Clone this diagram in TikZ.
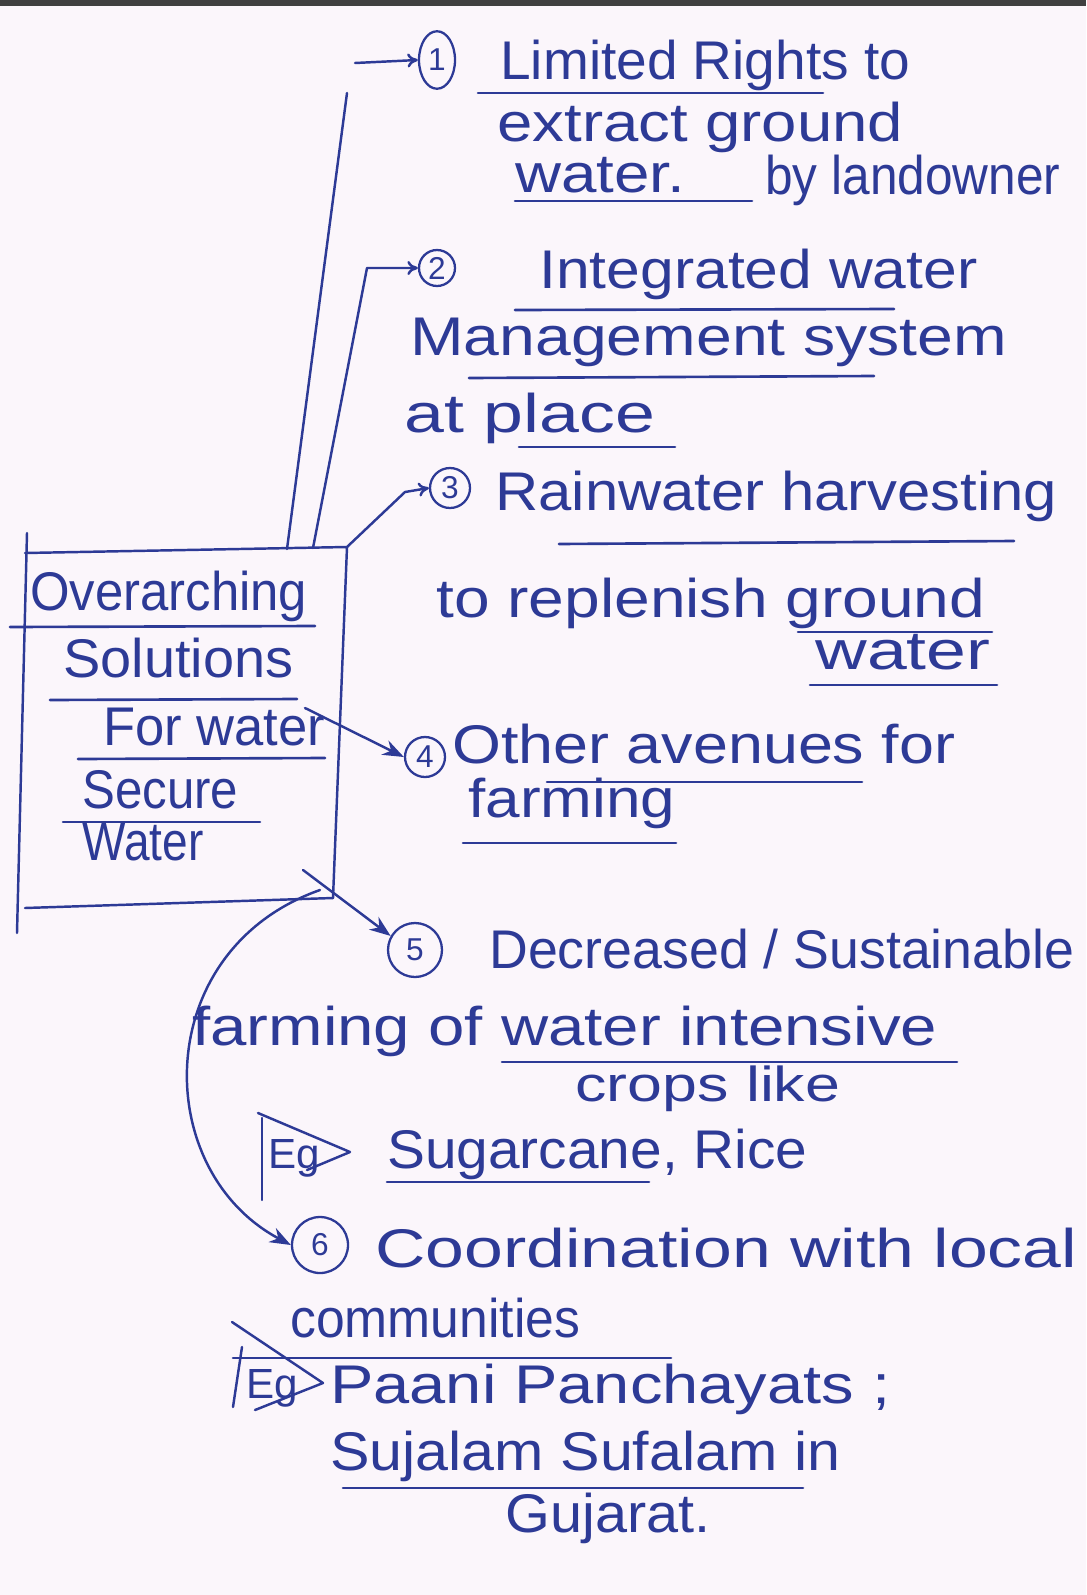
\documentclass[tikz,border=0pt]{standalone}
\usepackage{fontspec}
\usepackage{graphicx}
\setmainfont{Liberation Sans}
\usetikzlibrary{arrows.meta,shapes.geometric}
\definecolor{ink}{RGB}{45,58,150}
\definecolor{paper}{RGB}{251,246,251}
\newcommand\hw[2]{\resizebox{#1}{\height}{#2}}
\begin{document}
\begin{tikzpicture}[x=0.02cm,y=-0.02cm,
  txt/.style={anchor=base west,inner sep=0pt,text=ink,font=\fontsize{31}{31}\selectfont},
  small/.style={font=\fontsize{24}{24}\selectfont},
  mid/.style={font=\fontsize{28}{28}\selectfont},
  num/.style={draw=ink,circle,line width=1.3pt,inner sep=0pt,text=ink,font=\fontsize{18}{18}\selectfont},
  ul/.style={draw=ink,line width=1.5pt,line cap=round},
  pen/.style={draw=ink,line width=1.4pt,line cap=round,line join=round},
  openarr/.style={pen,-{To[length=6pt,width=8pt]}},
  fillarr/.style={pen,-{Stealth[length=12pt,width=9pt]}}]
\useasboundingbox (0,0) rectangle (1086,1595);
\fill[paper] (0,0) rectangle (1086,1595);
\fill[black!75] (0,0) rectangle (1086,6);

% ---------- box ----------
\coordinate (bTL) at (25,553);
\coordinate (bTR) at (347,547);
\coordinate (bBR) at (333,898);
\coordinate (bBL) at (25,908);
\draw[pen] (bTL) -- (bTR) -- (bBR);
\draw[pen] (bBL) -- (bBR);
\draw[pen] (27,533) -- (17,933);

\node[txt] (o1) at (30,610) {\hw{5.54cm}{Overarching}};
\node[txt] (o2) at (63,677) {\hw{4.6cm}{Solutions}};
\node[txt] (o3) at (103,745) {\hw{4.44cm}{For water}};
\node[txt] (o4) at (82,808) {\hw{3.12cm}{Secure}};
\node[txt] (o5) at (82,860) {\hw{2.42cm}{Water}};
\draw[ul] (10,627) -- (315,626);
\draw[ul] (50,700) -- (297,699);
\draw[ul] (78,759) -- (325,758);
\draw[ul] (63,822) -- (260,822);

% ---------- item 1 ----------
\node[num,ellipse,minimum width=0.72cm,minimum height=1.15cm] (n1) at (437,60) {1};
\node[txt] (t1) at (500,80) {\hw{8.2cm}{Limited Rights to}};
\node[txt] (t2) at (497,141) {\hw{8.12cm}{extract ground}};
\node[txt] (t3) at (515,192) {\hw{3.4cm}{water.}};
\node[txt] (t3b) at (765,194) {\hw{5.9cm}{by landowner}};
\draw[ul] (478,93) -- (823,93);
\draw[ul] (515,201) -- (752,201);
\coordinate (a1s) at (287,549);
\coordinate (a1t) at (347,93);
\coordinate (a1a) at (355,63);
\draw[pen] (a1s) -- (a1t);
\draw[openarr] (a1a) -- (n1.west);

% ---------- item 2 ----------
\node[num,minimum size=0.72cm] (n2) at (437,268) {2};
\node[txt] (t4) at (539,288) {\hw{8.76cm}{Integrated water}};
\node[txt] (t5) at (410,355) {\hw{11.94cm}{Management system}};
\node[txt] (t6) at (404,432) {\hw{5.02cm}{at place}};
\draw[ul] (515,310) -- (894,309);
\draw[ul] (469,378) -- (874,376);
\draw[ul] (519,447) -- (675,447);
\coordinate (a2s) at (313,548);
\coordinate (a2c) at (367,268);
\draw[openarr] (a2s) -- (a2c) -- (n2.west);

% ---------- item 3 ----------
\node[num,minimum size=0.8cm] (n3) at (450,488) {3};
\node[txt] (t7) at (495,510) {\hw{11.24cm}{Rainwater harvesting}};
\node[txt] (t8) at (436,617) {\hw{10.98cm}{to replenish ground}};
\node[txt] (t9) at (815,669) {\hw{3.5cm}{water}};
\draw[ul] (559,544) -- (1014,541);
\draw[ul] (798,632) -- (992,632);
\draw[ul] (810,685) -- (997,685);
\coordinate (a3c) at (405,492);
\draw[openarr] (bTR) -- (a3c) -- (n3.west);

% ---------- item 4 ----------
\node[num,minimum size=0.8cm] (n4) at (425,757) {4};
\node[txt] (t10) at (452,763) {\hw{10.06cm}{Other avenues for}};
\node[txt] (t11) at (468,817) {\hw{4.14cm}{farming}};
\draw[ul] (547,782) -- (862,782);
\draw[ul] (463,843) -- (676,843);
\coordinate (a4s) at (305,708);
\draw[fillarr] (a4s) -- (n4.west);

% ---------- item 5 ----------
\node[num,minimum size=1.08cm] (n5) at (415,950) {5};
\node[txt] (t12) at (489,968) {\hw{11.7cm}{Decreased / Sustainable}};
\node[txt] (t13) at (192,1045) {\hw{14.9cm}{farming of water intensive}};
\node[txt,mid] (t14) at (575,1101) {\hw{5.3cm}{crops like}};
\draw[ul] (502,1062) -- (957,1062);
\coordinate (a5s) at (303,870);
\draw[fillarr] (a5s) -- (n5.150);

% Eg flag 1
\coordinate (f1t) at (258,1113);
\coordinate (f1p) at (350,1152);
\coordinate (f1b) at (307,1170);
\draw[pen] (262,1118) -- (262,1200);
\draw[pen] (f1t) -- (f1p) -- (f1b);
\node[txt,small] (eg1) at (268,1168) {Eg};
\node[txt] (t15) at (387,1168) {\hw{8.4cm}{Sugarcane, Rice}};
\draw[ul] (387,1182) -- (649,1182);

% ---------- item 6 ----------
\node[num,minimum size=1.12cm] (n6) at (320,1245) {6};
\node[txt] (t16) at (375,1267) {\hw{14.04cm}{Coordination with local}};
\node[txt] (t17) at (290,1337) {\hw{5.8cm}{communities}};
\draw[ul] (233,1358) -- (671,1358);
\coordinate (a6s) at (320,890);
\draw[fillarr] (a6s) .. controls (150,950) and (150,1170) .. (n6.west);

% Eg flag 2
\coordinate (f2t) at (232,1322);
\coordinate (f2p) at (323,1383);
\coordinate (f2b) at (255,1410);
\draw[pen] (242,1347) -- (233,1407);
\draw[pen] (f2t) -- (f2p) -- (f2b);
\node[txt,small] (eg2) at (246,1398) {Eg};
\node[txt] (t18) at (330,1403) {\hw{11.2cm}{Paani Panchayats ;}};
\node[txt] (t19) at (330,1470) {\hw{10.2cm}{Sujalam Sufalam in}};
\node[txt] (t20) at (505,1532) {\hw{4.1cm}{Gujarat.}};
\draw[ul] (343,1488) -- (803,1488);
\end{tikzpicture}
\end{document}
